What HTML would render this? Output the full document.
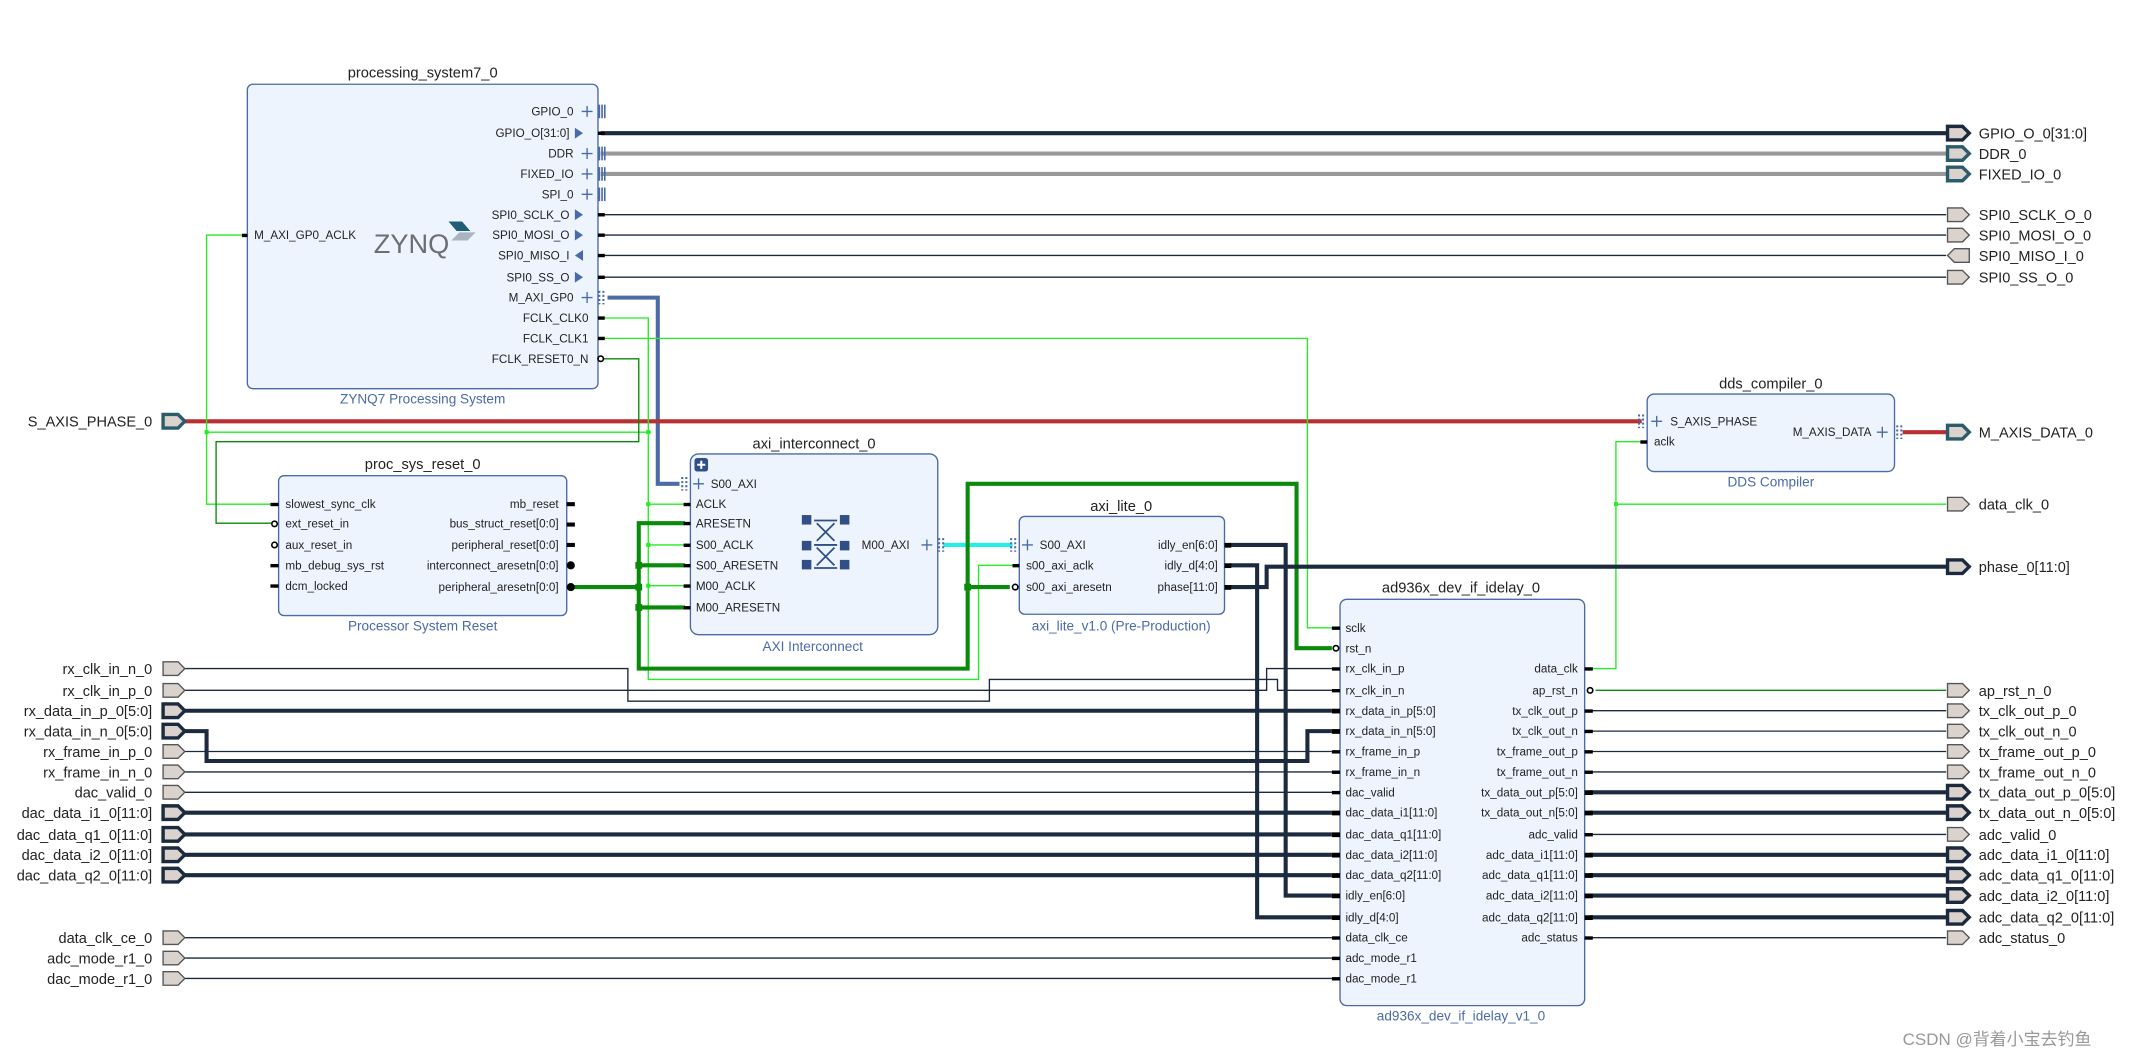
<!DOCTYPE html>
<html><head><meta charset="utf-8"><style>
html,body{margin:0;padding:0;background:#fff}
svg{display:block}
text{font-family:"Liberation Sans","Noto Sans CJK SC",sans-serif;fill:#222}
.pl{font-size:8.6px}
.ti{font-size:10.8px}
.su{font-size:10px;fill:#4a6aa8}
.ex{font-size:10.7px}
.box{fill:#edf4fd;stroke:#4a6aa8;stroke-width:1}
.n1{stroke:#1b2a3e;stroke-width:1;fill:none}
.nb{stroke:#1b2a3e;stroke-width:3;fill:none}
.g1{stroke:#22ee22;stroke-width:1;fill:none}
.dg{stroke:#0a8a0a;stroke-width:1;fill:none}
.dgb{stroke:#0a8a0a;stroke-width:3;fill:none}
.pt{fill:#dad3cd;stroke:#555;stroke-width:1}
.ptb{fill:#dad3cd;stroke:#1b2a3e;stroke-width:2.5}
.ptt{fill:#dad3cd;stroke:#2c5c6c;stroke-width:2.5}
</style></head><body>
<svg width="2131" height="1057" viewBox="0 0 1568 777.8" preserveAspectRatio="none" xmlns="http://www.w3.org/2000/svg">
<g>
<line x1="442" y1="98" x2="1432" y2="98" class="nb"/>
<line x1="442" y1="113" x2="1432" y2="113" stroke="#999" stroke-width="3"/>
<line x1="442" y1="128" x2="1432" y2="128" stroke="#999" stroke-width="3"/>
<line x1="442" y1="158" x2="1432" y2="158" class="n1"/>
<line x1="442" y1="173" x2="1432" y2="173" class="n1"/>
<line x1="442" y1="188" x2="1432" y2="188" class="n1"/>
<line x1="442" y1="204" x2="1432" y2="204" class="n1"/>
<polyline points="447,219 484,219 484,356 500,356" fill="none" stroke="#4a6aa8" stroke-width="3"/>
<line x1="694" y1="401" x2="745" y2="401" stroke="#22eeee" stroke-width="3"/>
<line x1="135" y1="310" x2="1208" y2="310" stroke="#b83030" stroke-width="3"/>
<line x1="1400" y1="318" x2="1432" y2="318" stroke="#b83030" stroke-width="3"/>
<polyline points="178,173 152,173 152,371 204,371" class="g1"/>
<polyline points="152,318 479,318" class="g1"/>
<polyline points="442,234 477,234 477,500 720,500 720,416 745,416" class="g1"/>
<line x1="477" y1="371" x2="504" y2="371" class="g1"/>
<line x1="477" y1="401" x2="504" y2="401" class="g1"/>
<line x1="477" y1="431" x2="504" y2="431" class="g1"/>
<polyline points="442,249 962,249 962,462 980,462" class="g1"/>
<polyline points="1170,492 1189,492 1189,325 1208,325" class="g1"/>
<line x1="1189" y1="371" x2="1432" y2="371" class="g1"/>
<rect x="150.5" y="316.5" width="3" height="3" fill="#22ee22"/>
<rect x="475.5" y="316.5" width="3" height="3" fill="#22ee22"/>
<rect x="475.5" y="369.5" width="3" height="3" fill="#22ee22"/>
<rect x="475.5" y="399.5" width="3" height="3" fill="#22ee22"/>
<rect x="475.5" y="429.5" width="3" height="3" fill="#22ee22"/>
<rect x="1187.5" y="369.5" width="3" height="3" fill="#22ee22"/>
<polyline points="444,264 470,264 470,325 159,325 159,385 202,385" class="dg"/>
<polyline points="422,432 470,432" class="dgb"/>
<polyline points="504,385 470,385 470,492 712,492 712,356 954,356 954,477 980,477" class="dgb"/>
<line x1="470" y1="416" x2="504" y2="416" class="dgb"/>
<line x1="470" y1="447" x2="504" y2="447" class="dgb"/>
<line x1="712" y1="432" x2="743" y2="432" class="dgb"/>
<rect x="467.5" y="413.5" width="5" height="5" fill="#0a8a0a"/>
<rect x="467.5" y="429.5" width="5" height="5" fill="#0a8a0a"/>
<rect x="467.5" y="444.5" width="5" height="5" fill="#0a8a0a"/>
<rect x="709.5" y="429.5" width="5" height="5" fill="#0a8a0a"/>
<polyline points="905,401 946,401 946,659 980,659" class="nb"/>
<polyline points="905,416 925,416 925,675 980,675" class="nb"/>
<polyline points="905,432 932,432 932,417 1432,417" class="nb"/>
<polyline points="135,492 462,492 462,516 728,516 728,500 940,500 940,508 980,508" class="n1"/>
<polyline points="135,508 932,508 932,492 980,492" class="n1"/>
<line x1="135" y1="523" x2="980" y2="523" class="nb"/>
<polyline points="135,538 152,538 152,560 962,560 962,538 980,538" class="nb"/>
<line x1="135" y1="553" x2="980" y2="553" class="n1"/>
<line x1="135" y1="568" x2="980" y2="568" class="n1"/>
<line x1="135" y1="583" x2="980" y2="583" class="n1"/>
<line x1="135" y1="598" x2="980" y2="598" class="nb"/>
<line x1="135" y1="614" x2="980" y2="614" class="nb"/>
<line x1="135" y1="629" x2="980" y2="629" class="nb"/>
<line x1="135" y1="644" x2="980" y2="644" class="nb"/>
<line x1="135" y1="690" x2="980" y2="690" class="n1"/>
<line x1="135" y1="705" x2="980" y2="705" class="n1"/>
<line x1="135" y1="720" x2="980" y2="720" class="n1"/>
<line x1="1174" y1="508" x2="1432" y2="508" class="dg"/>
<line x1="1170" y1="523" x2="1432" y2="523" class="n1"/>
<line x1="1170" y1="538" x2="1432" y2="538" class="n1"/>
<line x1="1170" y1="553" x2="1432" y2="553" class="n1"/>
<line x1="1170" y1="568" x2="1432" y2="568" class="n1"/>
<line x1="1170" y1="583" x2="1432" y2="583" class="nb"/>
<line x1="1170" y1="598" x2="1432" y2="598" class="nb"/>
<line x1="1170" y1="614" x2="1432" y2="614" class="n1"/>
<line x1="1170" y1="629" x2="1432" y2="629" class="nb"/>
<line x1="1170" y1="644" x2="1432" y2="644" class="nb"/>
<line x1="1170" y1="659" x2="1432" y2="659" class="nb"/>
<line x1="1170" y1="675" x2="1432" y2="675" class="nb"/>
<line x1="1170" y1="690" x2="1432" y2="690" class="n1"/>
</g>

<text x="311" y="57" class="ti" text-anchor="middle">processing_system7_0</text>
<rect x="182" y="62" width="258" height="224" rx="4" class="box"/>
<text x="311" y="297" class="su" text-anchor="middle">ZYNQ7 Processing System</text>
<rect x="178" y="172" width="4" height="2.5" fill="#000"/>
<text x="187" y="176" class="pl">M_AXI_GP0_ACLK</text>
<text x="275" y="186" style="font-size:20px;fill:#6d6e71">ZYNQ</text>
<polygon points="330,163 340,163 346,170 336,170" fill="#1f5d78"/>
<polygon points="338,171 350,171 344,177 332,177" fill="#a8b5bd"/>
<g class="pl" text-anchor="end">
<text x="422" y="85">GPIO_0</text><text x="419" y="101">GPIO_O[31:0]</text>
<text x="422" y="116">DDR</text><text x="422" y="131">FIXED_IO</text><text x="422" y="146">SPI_0</text>
<text x="419" y="161">SPI0_SCLK_O</text><text x="419" y="176">SPI0_MOSI_O</text>
<text x="419" y="191">SPI0_MISO_I</text><text x="419" y="207">SPI0_SS_O</text>
<text x="422" y="222">M_AXI_GP0</text><text x="433" y="237">FCLK_CLK0</text>
<text x="433" y="252">FCLK_CLK1</text><text x="433" y="267">FCLK_RESET0_N</text>
</g>
<g stroke="#4a6aa8" stroke-width="1">
<path d="M428 82h8M432 78v8M428 113h8M432 109v8M428 128h8M432 124v8M428 143h8M432 139v8M428 219h8M432 215v8"/>
<path d="M441 77v10M443 77v10M445 77v10M441 108v10M443 108v10M445 108v10M441 123v10M443 123v10M445 123v10M441 138v10M443 138v10M445 138v10" stroke-width="1.2"/>
<path d="M441 214v10M444 214v10" stroke-dasharray="1.5,1.5" stroke-width="1.5"/>
</g>
<g fill="#4a6aa8">
<polygon points="423,94 429,98 423,102"/><polygon points="423,154 429,158 423,162"/>
<polygon points="423,169 429,173 423,177"/><polygon points="429,184 423,188 429,192"/>
<polygon points="423,200 429,204 423,208"/>
</g>
<g fill="#000"><rect x="440" y="96.8" width="5" height="2.5"/><rect x="440" y="156.8" width="5" height="2.5"/><rect x="440" y="171.8" width="5" height="2.5"/><rect x="440" y="186.8" width="5" height="2.5"/><rect x="440" y="202.8" width="5" height="2.5"/><rect x="440" y="232.8" width="5" height="2.5"/><rect x="440" y="247.8" width="5" height="2.5"/></g>
<circle cx="442" cy="264" r="2" fill="#fff" stroke="#000" stroke-width="1.2"/>

<text x="112" y="314" class="ex" text-anchor="end">S_AXIS_PHASE_0</text>
<polygon points="120,305 131,305 136,310 131,315 120,315" class="ptt"/>

<text x="311" y="345" class="ti" text-anchor="middle">proc_sys_reset_0</text>
<rect x="205" y="350" width="212" height="103" rx="4" class="box"/>
<text x="311" y="464" class="su" text-anchor="middle">Processor System Reset</text>
<g class="pl"><text x="210" y="374">slowest_sync_clk</text><text x="210" y="388">ext_reset_in</text><text x="210" y="404">aux_reset_in</text><text x="210" y="419">mb_debug_sys_rst</text><text x="210" y="434">dcm_locked</text></g>
<g class="pl" text-anchor="end"><text x="411" y="374">mb_reset</text><text x="411" y="388">bus_struct_reset[0:0]</text><text x="411" y="404">peripheral_reset[0:0]</text><text x="411" y="419">interconnect_aresetn[0:0]</text><text x="411" y="435">peripheral_aresetn[0:0]</text></g>
<g fill="#000"><rect x="199" y="370" width="6" height="2.5"/><rect x="199" y="415" width="6" height="2.5"/><rect x="199" y="430" width="6" height="2.5"/>
<rect x="417" y="369.5" width="6" height="3"/><rect x="417" y="384.5" width="6" height="3"/><rect x="417" y="399.5" width="6" height="3"/>
<circle cx="420" cy="416" r="3"/><circle cx="420" cy="432" r="3"/></g>
<circle cx="202" cy="385.5" r="2" fill="#fff" stroke="#000" stroke-width="1.2"/>
<circle cx="202" cy="401" r="2" fill="#fff" stroke="#000" stroke-width="1.2"/>

<text x="599" y="330" class="ti" text-anchor="middle">axi_interconnect_0</text>
<rect x="508" y="334" width="182" height="133" rx="6" class="box"/>
<text x="598" y="479" class="su" text-anchor="middle">AXI Interconnect</text>
<rect x="511" y="337" width="10" height="10" rx="2" fill="#2f4f86"/><path d="M513 342h6M516 339v6" stroke="#fff" stroke-width="1.5"/>
<path d="M510 356h8M514 352v8" stroke="#4a6aa8"/>
<path d="M502 351v10M505 351v10" stroke="#4a6aa8" stroke-dasharray="1.5,1.5" stroke-width="1.5"/>
<g class="pl"><text x="523" y="359">S00_AXI</text><text x="512" y="374">ACLK</text><text x="512" y="388">ARESETN</text><text x="512" y="404">S00_ACLK</text><text x="512" y="419">S00_ARESETN</text><text x="512" y="434">M00_ACLK</text><text x="512" y="450">M00_ARESETN</text><text x="634" y="404">M00_AXI</text></g>
<g fill="#000"><rect x="503" y="370" width="5" height="2.5"/><rect x="503" y="384" width="5" height="2.5"/><rect x="503" y="400" width="5" height="2.5"/><rect x="503" y="415" width="5" height="2.5"/><rect x="503" y="430" width="5" height="2.5"/><rect x="503" y="446" width="5" height="2.5"/></g>
<path d="M678 401h8M682 397v8" stroke="#4a6aa8"/>
<path d="M691 396v10M694 396v10" stroke="#4a6aa8" stroke-dasharray="1.5,1.5" stroke-width="1.5"/>
<g fill="#2f4f86"><rect x="590" y="379" width="7" height="7"/><rect x="618" y="379" width="7" height="7"/><rect x="590" y="398" width="7" height="7"/><rect x="618" y="398" width="7" height="7"/><rect x="590" y="412" width="7" height="7"/><rect x="618" y="412" width="7" height="7"/></g>
<path d="M599 383h17M601 385l13 13M614 385l-13 13M599 401h17M601 403l13 13M614 403l-13 13M599 418h17" stroke="#2f4f86" stroke-width="1.3"/>

<text x="825" y="376" class="ti" text-anchor="middle">axi_lite_0</text>
<rect x="750" y="380" width="151" height="72" rx="4" class="box"/>
<text x="825" y="464" class="su" text-anchor="middle">axi_lite_v1.0 (Pre-Production)</text>
<path d="M744 396v10M747 396v10" stroke="#4a6aa8" stroke-dasharray="1.5,1.5" stroke-width="1.5"/>
<path d="M752 401h8M756 397v8" stroke="#4a6aa8"/>
<g class="pl"><text x="765" y="404">S00_AXI</text><text x="755" y="419">s00_axi_aclk</text><text x="755" y="435">s00_axi_aresetn</text></g>
<g class="pl" text-anchor="end"><text x="896" y="404">idly_en[6:0]</text><text x="896" y="419">idly_d[4:0]</text><text x="896" y="435">phase[11:0]</text></g>
<g fill="#000"><rect x="745" y="415" width="5" height="2.5"/><rect x="901" y="399.5" width="5" height="3.5"/><rect x="901" y="414.5" width="5" height="3.5"/><rect x="901" y="430.5" width="5" height="3.5"/></g>
<circle cx="747" cy="432" r="2" fill="#fff" stroke="#000" stroke-width="1.2"/>

<text x="1303" y="286" class="ti" text-anchor="middle">dds_compiler_0</text>
<rect x="1212" y="290" width="182" height="57" rx="5" class="box"/>
<text x="1303" y="358" class="su" text-anchor="middle">DDS Compiler</text>
<path d="M1206 305v10M1209 305v10" stroke="#4a6aa8" stroke-dasharray="1.5,1.5" stroke-width="1.5"/>
<path d="M1215 310h8M1219 306v8M1381 318h8M1385 314v8" stroke="#4a6aa8"/>
<path d="M1396 313v10M1399 313v10" stroke="#4a6aa8" stroke-dasharray="1.5,1.5" stroke-width="1.5"/>
<g class="pl"><text x="1229" y="313">S_AXIS_PHASE</text><text x="1217" y="328">aclk</text><text x="1377" y="321" text-anchor="end">M_AXIS_DATA</text></g>
<rect x="1207" y="324" width="5" height="2.5" fill="#000"/>

<text x="1075" y="436" class="ti" text-anchor="middle">ad936x_dev_if_idelay_0</text>
<rect x="986" y="441" width="180" height="299" rx="5" class="box"/>
<text x="1075" y="751" class="su" text-anchor="middle">ad936x_dev_if_idelay_v1_0</text>
<g class="pl">
<text x="990" y="465">sclk</text><text x="990" y="480">rst_n</text><text x="990" y="495">rx_clk_in_p</text><text x="990" y="511">rx_clk_in_n</text>
<text x="990" y="526">rx_data_in_p[5:0]</text><text x="990" y="541">rx_data_in_n[5:0]</text><text x="990" y="556">rx_frame_in_p</text><text x="990" y="571">rx_frame_in_n</text>
<text x="990" y="586">dac_valid</text><text x="990" y="601">dac_data_i1[11:0]</text><text x="990" y="617">dac_data_q1[11:0]</text><text x="990" y="632">dac_data_i2[11:0]</text>
<text x="990" y="647">dac_data_q2[11:0]</text><text x="990" y="662">idly_en[6:0]</text><text x="990" y="678">idly_d[4:0]</text><text x="990" y="693">data_clk_ce</text>
<text x="990" y="708">adc_mode_r1</text><text x="990" y="723">dac_mode_r1</text>
</g>
<g class="pl" text-anchor="end">
<text x="1161" y="495">data_clk</text><text x="1161" y="511">ap_rst_n</text><text x="1161" y="526">tx_clk_out_p</text><text x="1161" y="541">tx_clk_out_n</text>
<text x="1161" y="556">tx_frame_out_p</text><text x="1161" y="571">tx_frame_out_n</text><text x="1161" y="586">tx_data_out_p[5:0]</text><text x="1161" y="601">tx_data_out_n[5:0]</text>
<text x="1161" y="617">adc_valid</text><text x="1161" y="632">adc_data_i1[11:0]</text><text x="1161" y="647">adc_data_q1[11:0]</text><text x="1161" y="662">adc_data_i2[11:0]</text>
<text x="1161" y="678">adc_data_q2[11:0]</text><text x="1161" y="693">adc_status</text>
</g>
<g fill="#000">
<rect x="980" y="461" width="6" height="2.5"/><rect x="980" y="491" width="6" height="2.5"/><rect x="980" y="507" width="6" height="2.5"/>
<rect x="980" y="521.5" width="6" height="3.5"/><rect x="980" y="536.5" width="6" height="3.5"/><rect x="980" y="552" width="6" height="2.5"/><rect x="980" y="567" width="6" height="2.5"/><rect x="980" y="582" width="6" height="2.5"/>
<rect x="980" y="596.5" width="6" height="3.5"/><rect x="980" y="612.5" width="6" height="3.5"/><rect x="980" y="627.5" width="6" height="3.5"/><rect x="980" y="642.5" width="6" height="3.5"/><rect x="980" y="657.5" width="6" height="3.5"/><rect x="980" y="673.5" width="6" height="3.5"/>
<rect x="980" y="689" width="6" height="2.5"/><rect x="980" y="704" width="6" height="2.5"/><rect x="980" y="719" width="6" height="2.5"/>
<rect x="1166" y="491" width="6" height="2.5"/><rect x="1166" y="522" width="6" height="2.5"/><rect x="1166" y="537" width="6" height="2.5"/><rect x="1166" y="552" width="6" height="2.5"/><rect x="1166" y="567" width="6" height="2.5"/>
<rect x="1166" y="581.5" width="6" height="3.5"/><rect x="1166" y="596.5" width="6" height="3.5"/><rect x="1166" y="613" width="6" height="2.5"/><rect x="1166" y="627.5" width="6" height="3.5"/><rect x="1166" y="642.5" width="6" height="3.5"/><rect x="1166" y="657.5" width="6" height="3.5"/><rect x="1166" y="673.5" width="6" height="3.5"/><rect x="1166" y="689" width="6" height="2.5"/>
</g>
<circle cx="983" cy="477" r="2" fill="#fff" stroke="#000" stroke-width="1.2"/>
<circle cx="1170" cy="508" r="2" fill="#fff" stroke="#000" stroke-width="1.2"/>

<g class="ex" text-anchor="end">
<text x="112" y="496">rx_clk_in_n_0</text><text x="112" y="512">rx_clk_in_p_0</text><text x="112" y="527">rx_data_in_p_0[5:0]</text><text x="112" y="542">rx_data_in_n_0[5:0]</text>
<text x="112" y="557">rx_frame_in_p_0</text><text x="112" y="572">rx_frame_in_n_0</text><text x="112" y="587">dac_valid_0</text><text x="112" y="602">dac_data_i1_0[11:0]</text>
<text x="112" y="618">dac_data_q1_0[11:0]</text><text x="112" y="633">dac_data_i2_0[11:0]</text><text x="112" y="648">dac_data_q2_0[11:0]</text>
<text x="112" y="694">data_clk_ce_0</text><text x="112" y="709">adc_mode_r1_0</text><text x="112" y="724">dac_mode_r1_0</text>
</g>
<g>
<polygon class="pt" points="120,487 131,487 136,492 131,497 120,497"/><polygon class="pt" points="120,503 131,503 136,508 131,513 120,513"/>
<polygon class="ptb" points="120,518 131,518 136,523 131,528 120,528"/><polygon class="ptb" points="120,533 131,533 136,538 131,543 120,543"/>
<polygon class="pt" points="120,548 131,548 136,553 131,558 120,558"/><polygon class="pt" points="120,563 131,563 136,568 131,573 120,573"/>
<polygon class="pt" points="120,578 131,578 136,583 131,588 120,588"/><polygon class="ptb" points="120,593 131,593 136,598 131,603 120,603"/>
<polygon class="ptb" points="120,609 131,609 136,614 131,619 120,619"/><polygon class="ptb" points="120,624 131,624 136,629 131,634 120,634"/>
<polygon class="ptb" points="120,639 131,639 136,644 131,649 120,649"/>
<polygon class="pt" points="120,685 131,685 136,690 131,695 120,695"/><polygon class="pt" points="120,700 131,700 136,705 131,710 120,710"/>
<polygon class="pt" points="120,715 131,715 136,720 131,725 120,725"/>
</g>

<g class="ex">
<text x="1456" y="102">GPIO_O_0[31:0]</text><text x="1456" y="117">DDR_0</text><text x="1456" y="132">FIXED_IO_0</text>
<text x="1456" y="162">SPI0_SCLK_O_0</text><text x="1456" y="177">SPI0_MOSI_O_0</text><text x="1456" y="192">SPI0_MISO_I_0</text><text x="1456" y="208">SPI0_SS_O_0</text>
<text x="1456" y="322">M_AXIS_DATA_0</text><text x="1456" y="375">data_clk_0</text><text x="1456" y="421">phase_0[11:0]</text>
<text x="1456" y="512">ap_rst_n_0</text><text x="1456" y="527">tx_clk_out_p_0</text><text x="1456" y="542">tx_clk_out_n_0</text><text x="1456" y="557">tx_frame_out_p_0</text>
<text x="1456" y="572">tx_frame_out_n_0</text><text x="1456" y="587">tx_data_out_p_0[5:0]</text><text x="1456" y="602">tx_data_out_n_0[5:0]</text><text x="1456" y="618">adc_valid_0</text>
<text x="1456" y="633">adc_data_i1_0[11:0]</text><text x="1456" y="648">adc_data_q1_0[11:0]</text><text x="1456" y="663">adc_data_i2_0[11:0]</text><text x="1456" y="679">adc_data_q2_0[11:0]</text>
<text x="1456" y="694">adc_status_0</text>
</g>
<g>
<polygon class="ptb" points="1433,93 1444,93 1449,98 1444,103 1433,103"/>
<polygon class="ptt" points="1433,108 1444,108 1449,113 1444,118 1433,118"/>
<polygon class="ptt" points="1433,123 1444,123 1449,128 1444,133 1433,133"/>
<polygon class="pt" points="1433,153 1444,153 1449,158 1444,163 1433,163"/>
<polygon class="pt" points="1433,168 1444,168 1449,173 1444,178 1433,178"/>
<polygon class="pt" points="1449,183 1438,183 1433,188 1438,193 1449,193"/>
<polygon class="pt" points="1433,199 1444,199 1449,204 1444,209 1433,209"/>
<polygon class="ptt" points="1433,313 1444,313 1449,318 1444,323 1433,323"/>
<polygon class="pt" points="1433,366 1444,366 1449,371 1444,376 1433,376"/>
<polygon class="ptb" points="1433,412 1444,412 1449,417 1444,422 1433,422"/>
<polygon class="pt" points="1433,503 1444,503 1449,508 1444,513 1433,513"/>
<polygon class="pt" points="1433,518 1444,518 1449,523 1444,528 1433,528"/>
<polygon class="pt" points="1433,533 1444,533 1449,538 1444,543 1433,543"/>
<polygon class="pt" points="1433,548 1444,548 1449,553 1444,558 1433,558"/>
<polygon class="pt" points="1433,563 1444,563 1449,568 1444,573 1433,573"/>
<polygon class="ptb" points="1433,578 1444,578 1449,583 1444,588 1433,588"/>
<polygon class="ptb" points="1433,593 1444,593 1449,598 1444,603 1433,603"/>
<polygon class="pt" points="1433,609 1444,609 1449,614 1444,619 1433,619"/>
<polygon class="ptb" points="1433,624 1444,624 1449,629 1444,634 1433,634"/>
<polygon class="ptb" points="1433,639 1444,639 1449,644 1444,649 1433,649"/>
<polygon class="ptb" points="1433,654 1444,654 1449,659 1444,664 1433,664"/>
<polygon class="ptb" points="1433,670 1444,670 1449,675 1444,680 1433,680"/>
<polygon class="pt" points="1433,685 1444,685 1449,690 1444,695 1433,695"/>
</g>
<text x="1400" y="769" style="font-size:12.5px;fill:#999">CSDN @背着小宝去钓鱼</text>
</svg>
</body></html>
